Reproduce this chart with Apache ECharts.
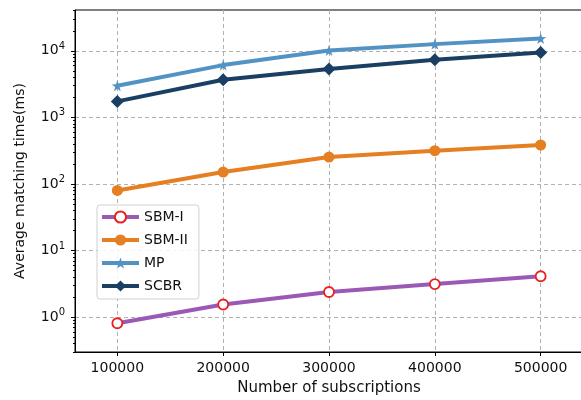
<!DOCTYPE html>
<html>
<head>
<meta charset="utf-8">
<script src="https://cdn.jsdelivr.net/npm/echarts@6/dist/echarts.min.js"></script>
<style>
  html, body { margin: 0; padding: 0; background: #fff; }
  #chart { width: 581px; height: 400px; }
</style>
</head>
<body>
<div id="chart"></div>
<script>
// data
const subscriptions = [100000, 200000, 300000, 400000, 500000]
const sbm1 = [0.81, 1.55, 2.39, 3.14, 4.12]
const sbm2 = [80, 151, 254, 316, 385]
const mp = [2990, 6100, 10100, 12600, 15300]
const scbr = [1740, 3670, 5310, 7330, 9440]
const yMajorTicks = [1, 10, 100, 1000, 10000]

// minor log ticks (2..9 of each decade) inside the visible range
const yMin = 0.3, yMax = 41000
const yMinorTicks = []
for (let e = -1; e <= 4; e++) {
  for (let m = 2; m <= 9; m++) {
    const v = m * Math.pow(10, e)
    if (v >= yMin && v <= yMax) yMinorTicks.push(v)
  }
}

const font = 'DejaVu Sans'
const starPath = 'path://M0,-10 L2.35,-3.24 9.51,-3.09 3.8,1.24 5.88,8.09 0,4 -5.88,8.09 -3.8,1.24 -9.51,-3.09 -2.35,-3.24Z'

function pairs(ys) {
  return subscriptions.map((x, i) => [x, ys[i]])
}

const chart = echarts.init(document.getElementById('chart'))
chart.setOption({
  animation: false,
  textStyle: { fontFamily: font },
  grid: {
    left: 75, top: 10, right: -2, bottom: 48,
    outerBoundsMode: 'none',
    show: true, borderColor: '#000', borderWidth: 1, backgroundColor: 'transparent'
  },
  legend: {
    left: 97, top: 205,
    orient: 'vertical',
    itemWidth: 37, itemHeight: 14, itemGap: 9,
    padding: [5, 11, 6, 3],
    borderColor: '#d0d0d0', borderWidth: 1, borderRadius: 3,
    backgroundColor: 'rgba(255,255,255,0.85)',
    lineStyle: { width: 4 },
    textStyle: { fontFamily: font, fontSize: 14, color: '#111' },
    data: ['SBM-I', 'SBM-II', 'MP', 'SCBR']
  },
  xAxis: {
    type: 'value',
    min: 60000, max: 540000,
    name: 'Number of subscriptions',
    nameLocation: 'middle', nameGap: 29,
    nameTextStyle: { fontFamily: font, fontSize: 15, color: '#111' },
    axisLine: { show: true, lineStyle: { color: '#000' } },
    axisTick: { show: true, length: 4, lineStyle: { color: '#000' }, customValues: subscriptions },
    axisLabel: {
      fontFamily: font, fontSize: 14, color: '#111', margin: 9,
      customValues: subscriptions,
      formatter: v => String(v)
    },
    splitLine: { show: true, lineStyle: { color: '#b0b0b0', type: [4, 3] } }
  },
  yAxis: [{
    type: 'log',
    logBase: 10,
    min: yMin, max: yMax,
    name: 'Average matching time(ms)',
    nameLocation: 'middle', nameGap: 48,
    nameTextStyle: { fontFamily: font, fontSize: 14, color: '#111' },
    axisLine: { show: true, lineStyle: { color: '#000' } },
    axisTick: { show: true, length: 4, lineStyle: { color: '#000' }, customValues: yMajorTicks },
    axisLabel: {
      customValues: yMajorTicks,
      margin: 10,
      formatter: function (v) {
        const e = Math.round(Math.log10(v))
        return '{b|10}{s|' + e + '}'
      },
      rich: {
        b: { fontFamily: font, fontSize: 14, color: '#111' },
        s: { fontFamily: font, fontSize: 10, color: '#111', padding: [0, 0, 9, 0] }
      }
    },
    splitLine: { show: true, lineStyle: { color: '#b0b0b0', type: [4, 3] } }
  }, {
    type: 'log',
    logBase: 10,
    min: yMin, max: yMax,
    position: 'left',
    axisLine: { show: false },
    axisTick: { show: true, length: 2, lineStyle: { color: '#000' }, customValues: yMinorTicks },
    axisLabel: { show: false },
    splitLine: { show: false }
  }],
  series: [{
    name: 'SBM-I',
    type: 'line',
    data: pairs(sbm1),
    symbol: 'circle', symbolSize: 10,
    lineStyle: { color: '#9b59b6', width: 4 },
    itemStyle: { color: '#fff', borderColor: '#e8201f', borderWidth: 1.8 },
    z: 5
  }, {
    name: 'SBM-II',
    type: 'line',
    data: pairs(sbm2),
    symbol: 'circle', symbolSize: 11,
    lineStyle: { color: '#e67e22', width: 4 },
    itemStyle: { color: '#e67e22', borderWidth: 0 },
    z: 5
  }, {
    name: 'MP',
    type: 'line',
    data: pairs(mp),
    symbol: starPath, symbolSize: 11,
    lineStyle: { color: '#5393c4', width: 4 },
    itemStyle: { color: '#5393c4', borderWidth: 0 },
    z: 5
  }, {
    name: 'SCBR',
    type: 'line',
    data: pairs(scbr),
    symbol: 'diamond', symbolSize: 13,
    lineStyle: { color: '#1b3f63', width: 4 },
    itemStyle: { color: '#1b3f63', borderWidth: 0 },
    z: 5
  }]
})
</script>
</body>
</html>
